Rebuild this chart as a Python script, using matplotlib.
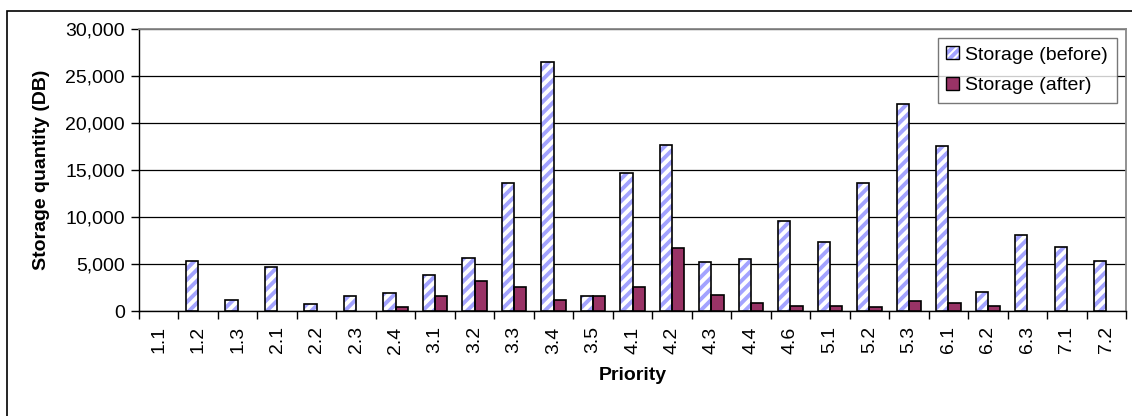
import matplotlib
matplotlib.use("Agg")
import matplotlib.pyplot as plt
import numpy as np
from matplotlib.patches import Rectangle, Patch
from matplotlib.ticker import FuncFormatter, MultipleLocator, FixedLocator
from matplotlib.legend_handler import HandlerBase

plt.rcParams['font.family'] = ['Liberation Sans', 'DejaVu Sans']
plt.rcParams['hatch.linewidth'] = 2.8

categories = ["1.1", "1.2", "1.3", "2.1", "2.2", "2.3", "2.4", "3.1", "3.2", "3.3",
              "3.4", "3.5", "4.1", "4.2", "4.3", "4.4", "4.6", "5.1", "5.2", "5.3",
              "6.1", "6.2", "6.3", "7.1", "7.2"]
storage_before = [0, 5300, 1200, 4700, 700, 1550, 1900, 3800, 5650, 13600,
                  26450, 1550, 14700, 17700, 5200, 5500, 9600, 7300, 13600, 22000,
                  17550, 2050, 8100, 6800, 5300]
storage_after = [0, 0, 0, 0, 0, 0, 400, 1550, 3200, 2550,
                 1200, 1550, 2550, 6650, 1750, 900, 550, 550, 400, 1050,
                 900, 550, 0, 0, 0]

HATCH_C = '#A3A3FF'
AFTER_C = '#993366'
FS = 14

W, H = 1132, 416
fig = plt.figure(figsize=(W / 100, H / 100), dpi=100)
fig.patch.set_facecolor('white')

# outer chart frame
fig.patches.append(Rectangle((7 / W, -0.1), 1.2, (H - 11) / H + 0.1, transform=fig.transFigure,
                             fill=False, edgecolor='black', linewidth=1.2, figure=fig))

ax = fig.add_axes([139 / W, (H - 311) / H, (1126 - 139) / W, (311 - 29) / H])
x = np.arange(len(categories))
bw = 0.31

def hide_zero(bars, vals):
    for p, v in zip(bars, vals):
        if v == 0:
            p.set_visible(False)

b1 = ax.bar(x - bw / 2, storage_before, bw, facecolor='white', edgecolor='none',
            linewidth=0, zorder=3)
b1h = ax.bar(x - bw / 2, storage_before, bw, facecolor='none', edgecolor=HATCH_C,
             hatch='///', linewidth=0, zorder=3)
b1o = ax.bar(x - bw / 2, storage_before, bw, facecolor='none', edgecolor='black',
             linewidth=1.2, zorder=4)
b2 = ax.bar(x + bw / 2, storage_after, bw, facecolor=AFTER_C, edgecolor='black',
            linewidth=1.2, zorder=3)
for bars, vals in [(b1, storage_before), (b1h, storage_before), (b1o, storage_before),
                   (b2, storage_after)]:
    hide_zero(bars, vals)

ax.set_xlim(-0.5, len(categories) - 0.5)
ax.set_ylim(0, 30000)
ax.yaxis.set_major_locator(MultipleLocator(5000))
ax.yaxis.set_major_formatter(FuncFormatter(lambda v, p: f"{int(v):,}"))
ax.grid(axis='y', color='black', linewidth=0.9, zorder=1)
ax.set_axisbelow(True)

ax.set_xticks(x)
ax.set_xticklabels(categories, rotation=90, fontsize=FS)
ax.tick_params(axis='x', which='major', length=0, pad=11)
ax.xaxis.set_minor_locator(FixedLocator(np.arange(-0.5, len(categories), 1.0)))
ax.tick_params(axis='x', which='minor', length=6, width=1, color='black')
ax.tick_params(axis='y', which='major', length=6, width=1, labelsize=FS, pad=4)

for s in ['top', 'right']:
    ax.spines[s].set_color('#888888')
    ax.spines[s].set_linewidth(1.3)
ax.spines['left'].set_linewidth(1.0)
ax.spines['bottom'].set_linewidth(1.0)

ax.set_ylabel('Storage quantity (DB)', fontsize=FS, fontweight='bold', va='center')
ax.yaxis.set_label_coords((42 - 139) / 987, 0.5)
ax.set_xlabel('Priority', fontsize=FS, fontweight='bold', va='center')
ax.xaxis.set_label_coords(0.5, (311 - 375) / 282)


class HandlerHatched(HandlerBase):
    def create_artists(self, legend, orig_handle, xdescent, ydescent, width, height,
                       fontsize, trans):
        xy = (-xdescent, -ydescent)
        r1 = Rectangle(xy, width, height, facecolor='white', edgecolor='none',
                       linewidth=0, transform=trans)
        r2 = Rectangle(xy, width, height, facecolor='none', edgecolor=HATCH_C,
                       hatch='////', linewidth=0, transform=trans)
        r3 = Rectangle(xy, width, height, facecolor='none', edgecolor='black',
                       linewidth=1.0, transform=trans)
        return [r1, r2, r3]


h_before = Patch(facecolor='white', edgecolor='black')
h_after = Patch(facecolor=AFTER_C, edgecolor='black', linewidth=1.0)
leg = ax.legend([h_before, h_after], ['Storage (before)', 'Storage (after)'],
                handler_map={h_before: HandlerHatched()},
                loc='upper left', bbox_to_anchor=((937.7 - 139) / 987, (311 - 37.7) / 282),
                fontsize=FS, frameon=True, fancybox=False, edgecolor='#555555',
                handlelength=0.62, handleheight=0.62, handletextpad=0.35,
                borderpad=0.45, labelspacing=0.7, borderaxespad=0)
leg.get_frame().set_linewidth(1.0)
leg.set_zorder(10)

fig.savefig('out.png', dpi=100, facecolor='white')
